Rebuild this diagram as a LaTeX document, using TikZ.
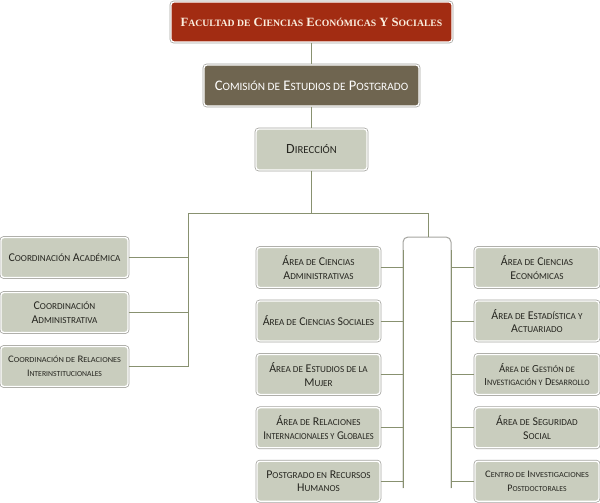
\documentclass[tikz,border=0pt]{standalone}
\usepackage{fontspec}
\usepackage{graphicx}
\setmainfont{Carlito}
\newfontfamily\serifbold{Liberation Serif}[BoldFont={* Bold}]
\definecolor{linec}{RGB}{136,145,112}
\definecolor{boxf}{RGB}{201,205,190}
\definecolor{redf}{RGB}{162,44,18}
\definecolor{brownf}{RGB}{111,101,80}
\definecolor{txtc}{RGB}{38,38,32}
\definecolor{creamc}{RGB}{250,238,222}
\definecolor{borderc}{RGB}{165,165,160}
\makeatletter
\newcommand\sm[1]{{\fontsize{\fpeval{0.77*\f@size}}{\f@baselineskip}\selectfont #1}}
\makeatother
\newcommand\hs[2]{\scalebox{#1}[1]{#2}}
\begin{document}
\begin{tikzpicture}[x=1pt,y=-1pt,
  conn/.style={draw=linec, line width=0.95pt},
  basebox/.style={rectangle, rounded corners=3pt, draw=white, line width=1.3pt,
    preaction={draw=borderc, line width=2.8pt, rounded corners=3pt},
    align=center, inner sep=0pt},
  orgbox/.style={basebox, fill=boxf, text=txtc, font=\fontsize{11.9}{13.5}\selectfont,
    minimum height=40pt},
  smallfont/.style={font=\fontsize{10}{14}\selectfont},
  medfont/.style={font=\fontsize{10.8}{13.5}\selectfont},
  leftbox/.style={orgbox, minimum width=127pt},
  midbox/.style={orgbox, minimum width=123pt},
  rightbox/.style={orgbox, minimum width=124pt}
]
\useasboundingbox (0,0) rectangle (600,503);
\fill[white] (0,0) rectangle (600,503);

% top chain
\node[basebox, fill=redf, text=creamc, minimum width=281pt, minimum height=40pt,
  font=\serifbold\bfseries\fontsize{12.6}{14}\selectfont] (fac) at (311.5,22)
  {F\sm{ACULTAD DE} C\sm{IENCIAS} E\sm{CONÓMICAS} Y S\sm{OCIALES}};
\node[basebox, fill=brownf, text=white, minimum width=215pt, minimum height=41pt,
  font=\fontsize{14.6}{16}\selectfont] (com) at (311.5,85.5)
  {C\sm{OMISIÓN DE} E\sm{STUDIOS DE} P\sm{OSTGRADO}};
\node[orgbox, minimum width=111pt, minimum height=41pt, font=\fontsize{14}{16}\selectfont] (dir) at (311.5,149.5)
  {D\sm{IRECCIÓN}};

% left column
\node[leftbox] (l1) at (64.5,257.5) {C\sm{OORDINACIÓN} A\sm{CADÉMICA}};
\node[leftbox] (l2) at (64.5,312.5) {C\sm{OORDINACIÓN}\\A\sm{DMINISTRATIVA}};
\node[leftbox, smallfont] (l3) at (64.5,366.5) {\hs{1.08}{C\sm{OORDINACIÓN DE} R\sm{ELACIONES}}\\I\sm{NTERINSTITUCIONALES}};

% middle column
\node[midbox] (m1) at (318.5,267.5) {Á\sm{REA DE} C\sm{IENCIAS}\\A\sm{DMINISTRATIVAS}};
\node[midbox] (m2) at (318.5,321) {Á\sm{REA DE} C\sm{IENCIAS} S\sm{OCIALES}};
\node[midbox] (m3) at (318.5,374.4) {Á\sm{REA DE} E\sm{STUDIOS DE LA}\\M\sm{UJER}};
\node[midbox] (m4) at (318.5,427.8) {Á\sm{REA DE} R\sm{ELACIONES}\\\hs{0.92}{I\sm{NTERNACIONALES Y} G\sm{LOBALES}}};
\node[midbox] (m5) at (318.5,481.2) {P\sm{OSTGRADO EN} R\sm{ECURSOS}\\H\sm{UMANOS}};

% right column
\node[rightbox] (r1) at (537,267.5) {Á\sm{REA DE} C\sm{IENCIAS}\\E\sm{CONÓMICAS}};
\node[rightbox] (r2) at (537,321) {Á\sm{REA DE} E\sm{STADÍSTICA Y}\\A\sm{CTUARIADO}};
\node[rightbox, medfont] (r3) at (537,374.4) {Á\sm{REA DE} G\sm{ESTIÓN DE}\\\hs{0.97}{I\sm{NVESTIGACIÓN Y} D\sm{ESARROLLO}}};
\node[rightbox] (r4) at (537,427.8) {Á\sm{REA DE} S\sm{EGURIDAD}\\S\sm{OCIAL}};
\node[rightbox, smallfont] (r5) at (537,481.2) {\hs{1.07}{C\sm{ENTRO DE} I\sm{NVESTIGACIONES}}\\P\sm{OSTDOCTORALES}};

% junction coordinates
\coordinate (j) at (311.5,213);
\coordinate (jl) at (188,213);
\coordinate (jr) at (428,213);
\coordinate (bt) at (428,237);
\coordinate (bl) at (403,237);
\coordinate (br) at (451,237);
\coordinate (bld) at (403,488);
\coordinate (brd) at (451,488);

% central bracket
\draw[draw=borderc, line width=1pt, rounded corners=5pt] (bld) -- (bl) -- (br) -- (brd);
\draw[conn] (403,250) -- (bld);
\draw[conn] (451,250) -- (brd);

% connectors
\draw[conn] (fac.south) -- (com.north);
\draw[conn] (com.south) -- (dir.north);
\draw[conn] (dir.south) -- (j);
\draw[conn] (jl) -- (jr) -- (bt);
\draw[conn] (jl) -- (jl |- l3.east);
\foreach \n in {l1,l2,l3} \draw[conn] (\n.east) -- (jl |- \n.east);
\foreach \n in {m1,m2,m3,m4,m5} \draw[conn] (\n.east) -- (bl |- \n.east);
\foreach \n in {r1,r2,r3,r4,r5} \draw[conn] (br |- \n.west) -- (\n.west);
\end{tikzpicture}
\end{document}
